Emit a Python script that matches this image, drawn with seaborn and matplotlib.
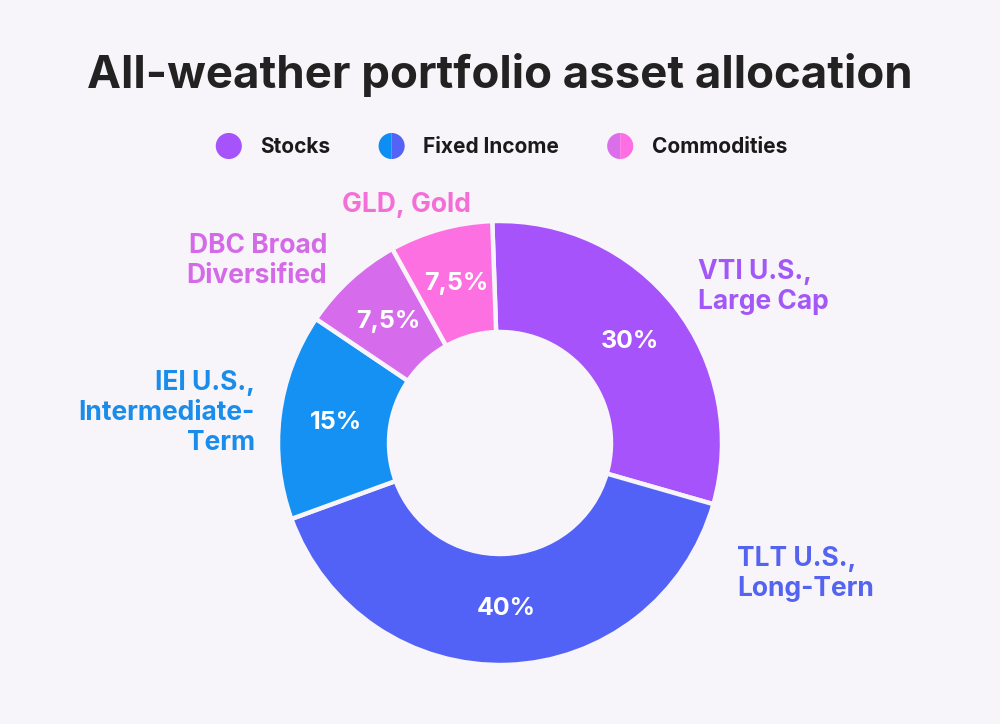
import matplotlib
matplotlib.use("Agg")
import matplotlib.pyplot as plt
from matplotlib.patches import Wedge, Circle
from matplotlib.legend_handler import HandlerBase
import numpy as np
import seaborn as sns

# ---- data ----
assets = ["VTI U.S.,\nLarge Cap", "TLT U.S.,\nLong-Tern", "IEI U.S.,\nIntermediate-\nTerm",
          "DBC Broad\nDiversified", "GLD, Gold"]
shares = [30, 40, 15, 7.5, 7.5]
slice_colors = ["#A653FB", "#5362F6", "#1591F4", "#D66CEC", "#FD70E1"]
label_colors = ["#A257F6", "#5564F0", "#1A8CEB", "#D56AE8", "#F46ED8"]
groups = ["Stocks", "Fixed Income", "Commodities"]
group_colors = [("#A653FB", "#A653FB"), ("#0D8EF5", "#5462F5"), ("#DA6FEB", "#FF6FE3")]
title = "All-weather portfolio asset allocation"

BG = "#F7F5F9"
sns.set_theme(style="white")
plt.rcParams["font.family"] = ["Inter", "DejaVu Sans"]

W, H = 1000, 724
fig = plt.figure(figsize=(10, 7.24), dpi=100, facecolor=BG)
ax = fig.add_axes([0, 0, 1, 1])
ax.set_facecolor(BG)

def fmt(p):
    v = round(p, 1)
    if abs(v - round(v)) < 1e-6:
        return f"{int(round(v))}%"
    return f"{v:.1f}%".replace(".", ",")

cx, cy, R = 500, H - 443, 222
wedges, texts = ax.pie(
    shares, colors=slice_colors, startangle=92, counterclock=False,
    center=(cx, cy), radius=R, frame=True,
    wedgeprops=dict(width=R * 0.5, edgecolor=BG, linewidth=3.2, joinstyle="round"),
)
ax.set_xlim(0, W)
ax.set_ylim(0, H)
ax.axis("off")

for w, v in zip(wedges, shares):
    mid = np.deg2rad((w.theta1 + w.theta2) / 2)
    rr = R * 0.745
    ax.text(cx + rr * np.cos(mid), cy + rr * np.sin(mid), fmt(v), ha="center", va="center",
            color="white", fontsize=18, fontweight="bold")

# label layout (pixel coords, top-left origin): x, y, ha
label_layout = [(698, 287, "left"), (737, 574, "left"), (255, 413, "right"),
                (327, 261, "right"), (406, 205, "center")]
for txt, col, (lx, ly, ha) in zip(assets, label_colors, label_layout):
    ax.text(lx, H - ly, txt, ha=ha, va="center", multialignment=ha, color=col,
            fontsize=19, fontweight="bold", linespacing=1.2)

fig.text(0.5, 1 - 75 / H, title, ha="center", va="center", fontsize=32.8,
         fontweight="bold", color="#222222")

class Dot:
    def __init__(self, c1, c2):
        self.c1, self.c2 = c1, c2

class HandlerDot(HandlerBase):
    def create_artists(self, legend, orig, xdescent, ydescent, width, height, fontsize, trans):
        r = min(width, height) / 2
        x0 = width / 2 - xdescent
        y0 = height / 2 - ydescent
        if orig.c1 == orig.c2:
            return [Circle((x0, y0), r, facecolor=orig.c1, edgecolor="none", transform=trans)]
        w1 = Wedge((x0, y0), r, 90, 270, facecolor=orig.c1, edgecolor="none", transform=trans)
        w2 = Wedge((x0, y0), r, -90, 90, facecolor=orig.c2, edgecolor="none", transform=trans)
        return [w1, w2]

handles = [Dot(a, b) for a, b in group_colors]
leg = fig.legend(handles, groups, handler_map={Dot: HandlerDot()}, loc="center",
                 bbox_to_anchor=(0.5, 1 - 146 / H), ncol=3, frameon=False,
                 prop={"family": ["Inter", "DejaVu Sans"], "weight": "bold", "size": 15},
                 handlelength=1.55, handleheight=1.55, handletextpad=0.75, columnspacing=2.15)
for t in leg.get_texts():
    t.set_color("#1A1A1A")

fig.savefig("out.png", dpi=100, facecolor=BG)
